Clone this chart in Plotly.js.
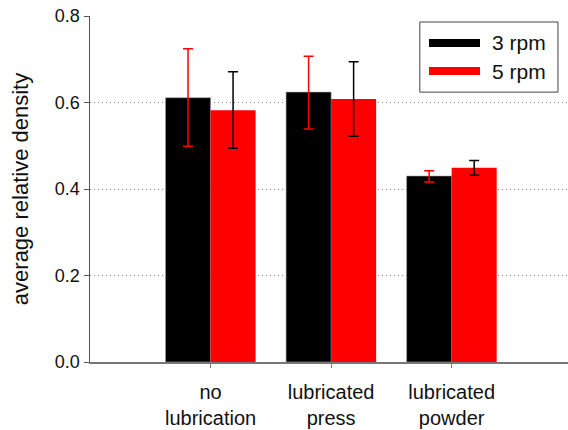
<!DOCTYPE html>
<html>
<head>
<meta charset="utf-8">
<script src="https://cdn.plot.ly/plotly-3.0.1.min.js"></script>
<style>html,body{margin:0;padding:0;background:#fff;}#chart{width:568px;height:430px;}</style>
</head>
<body>
<div id="chart"></div>
<script>
const categories = ["no<br>lubrication", "lubricated<br>press", "lubricated<br>powder"];
const seriesNames = ["3 rpm", "5 rpm"];
const values3rpm = [0.611, 0.624, 0.430];
const errPlus3rpm = [0.113, 0.083, 0.012];
const errMinus3rpm = [0.112, 0.085, 0.014];
const values5rpm = [0.582, 0.608, 0.449];
const errPlus5rpm = [0.089, 0.086, 0.017];
const errMinus5rpm = [0.088, 0.086, 0.017];
const yTicks = [0, 0.2, 0.4, 0.6, 0.8];

const FONT = "Liberation Sans, Arial, sans-serif";
const catIdx = categories.map((c, i) => i);

const traces = [
  {
    type: "bar", name: seriesNames[0], x: catIdx, y: values3rpm,
    marker: {color: "#000000", line: {color: "#9a9a9a", width: 0.6}},
    error_y: {type: "data", symmetric: false, array: errPlus3rpm, arrayminus: errMinus3rpm,
              color: "#ff0000", thickness: 1.5, width: 5},
    showlegend: false
  },
  {
    type: "bar", name: seriesNames[1], x: catIdx, y: values5rpm,
    marker: {color: "#ff0000"},
    error_y: {type: "data", symmetric: false, array: errPlus5rpm, arrayminus: errMinus5rpm,
              color: "#000000", thickness: 1.5, width: 5},
    showlegend: false
  }
];

const layout = {
  width: 568, height: 430,
  margin: {l: 90, r: 0, t: 16, b: 68},
  paper_bgcolor: "#ffffff", plot_bgcolor: "#ffffff",
  barmode: "group", bargap: 0.253, bargroupgap: 0,
  showlegend: false,
  font: {family: FONT, color: "#111111"},
  xaxis: {
    range: [-1, 2.965], tickmode: "array", tickvals: catIdx, ticktext: categories,
    showline: true, linecolor: "#777777", linewidth: 1.5,
    ticks: "outside", ticklen: 4, tickcolor: "#777777",
    showgrid: false, zeroline: false,
    tickfont: {family: FONT, size: 20, color: "#111111"},
    ticklabelstandoff: 7
  },
  yaxis: {
    range: [0, 0.8], tickmode: "array", tickvals: yTicks, tickformat: ".1f",
    showline: true, linecolor: "#555555", linewidth: 1.5,
    ticks: "outside", ticklen: 5, tickcolor: "#555555",
    showgrid: true, gridcolor: "#888888", griddash: "1px,3px", gridwidth: 1,
    zeroline: false,
    tickfont: {family: FONT, size: 18, color: "#111111"},
    title: {text: "average relative density", font: {family: FONT, size: 22, color: "#111111"}, standoff: 20}
  },
  shapes: [
    {type: "rect", xref: "paper", yref: "paper", x0: 0.690, x1: 0.979, y0: 0.780, y1: 0.9827,
     line: {color: "#444444", width: 1}, fillcolor: "#ffffff", layer: "above"},
    {type: "rect", xref: "paper", yref: "paper", x0: 0.7092, x1: 0.8159, y0: 0.9104, y1: 0.9335,
     line: {width: 0}, fillcolor: "#000000", layer: "above"},
    {type: "rect", xref: "paper", yref: "paper", x0: 0.7092, x1: 0.8159, y0: 0.8295, y1: 0.8526,
     line: {width: 0}, fillcolor: "#ff0000", layer: "above"}
  ],
  annotations: [
    {xref: "paper", yref: "paper", x: 0.8368, y: 0.922, xanchor: "left", yanchor: "middle",
     text: seriesNames[0], showarrow: false, font: {family: FONT, size: 21, color: "#111111"}},
    {xref: "paper", yref: "paper", x: 0.8368, y: 0.841, xanchor: "left", yanchor: "middle",
     text: seriesNames[1], showarrow: false, font: {family: FONT, size: 21, color: "#111111"}}
  ]
};

Plotly.newPlot("chart", traces, layout, {displayModeBar: false, staticPlot: true});
</script>
</body>
</html>
